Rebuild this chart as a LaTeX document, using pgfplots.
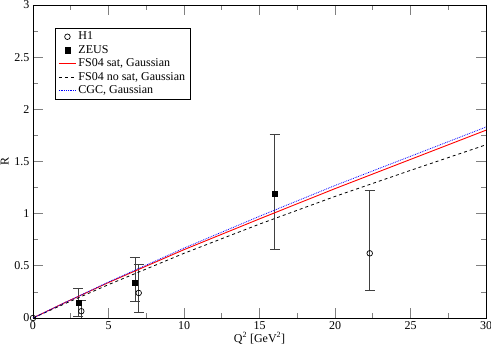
\documentclass[border=0pt]{standalone}
\usepackage{fontspec}
\setmainfont{Liberation Serif}
\usepackage{pgfplots}
\pgfplotsset{compat=1.18}
\begin{document}
\begin{tikzpicture}
\begin{axis}[
    name=ax,
    width=453pt, height=313pt, scale only axis,
    xmin=0, xmax=30, ymin=0, ymax=3,
    xtick={0,5,10,15,20,25,30},
    ytick={0,0.5,1,1.5,2,2.5,3},
    minor tick num=1,
    tick align=inside,
    major tick length=10pt, minor tick length=5pt,
    tick style={line width=0.7pt},
    axis line style={line width=0.8pt},
    font=\fontsize{12}{14}\selectfont,
    /pgf/number format/assume math mode=true,
    xlabel={Q\textsuperscript{2} [GeV\textsuperscript{2}]},
    ylabel={R},
    xlabel style={yshift=4pt},
    ylabel style={yshift=-1pt},
    legend cell align=left,
    legend style={at={(0.049,0.927)}, anchor=north west,
        font=\fontsize{12}{14}\selectfont,
        row sep=0pt, inner xsep=3pt, inner ysep=2pt},
]

% H1
\addplot[only marks, mark=o, mark size=2.8pt, mark options={draw=black, fill=white, line width=0.7pt},
    error bars/.cd, y dir=both, y explicit,
    error bar style={black!75, line width=0.8pt},
    error mark options={black!75, line width=0.8pt, mark size=5pt, rotate=90}] coordinates {
    (0,0)
    (3.2,0.065) += (0,0.105) -= (0,0.10)
    (7.0,0.24) += (0,0.27) -= (0,0.19)
    (22.3,0.62) += (0,0.60) -= (0,0.36)
};
\addlegendentry{H1}

% ZEUS
\addplot[only marks, mark=square*, mark size=2.6pt, mark options={draw=black, fill=black},
    error bars/.cd, y dir=both, y explicit,
    error bar style={black!75, line width=0.8pt},
    error mark options={black!75, line width=0.8pt, mark size=5pt, rotate=90}] coordinates {
    (3.0,0.15) += (0,0.13) -= (0,0.13)
    (6.75,0.34) += (0,0.24) -= (0,0.18)
    (16.0,1.19) += (0,0.57) -= (0,0.53)
};
\addlegendentry{ZEUS}

% FS04 sat, Gaussian
\addplot[red, line width=0.9pt, mark=none,
    legend image code/.code={\draw[draw=red, line width=1pt] (0cm,0cm) -- (0.6cm,0cm);}] coordinates {
    (0,0) (2,0.14) (5,0.34) (10,0.655) (15,0.95) (20,1.24) (25,1.52) (30,1.80)
};
\addlegendentry{FS04 sat, Gaussian}

% FS04 no sat, Gaussian
\addplot[black, dashed, line width=0.8pt, mark=none] coordinates {
    (0,0) (2,0.13) (5,0.32) (10,0.62) (15,0.90) (20,1.165) (25,1.415) (30,1.66)
};
\addlegendentry{FS04 no sat, Gaussian}

% CGC, Gaussian
\addplot[blue, densely dotted, line width=0.8pt, mark=none] coordinates {
    (0,0) (2,0.14) (5,0.345) (10,0.67) (15,0.975) (20,1.27) (25,1.55) (30,1.83)
};
\addlegendentry{CGC, Gaussian}

\end{axis}
\pgfresetboundingbox
\path ([shift={(-33pt,-37pt)}]ax.south west) rectangle ([shift={(5pt,5pt)}]ax.north east);
\end{tikzpicture}
\end{document}
